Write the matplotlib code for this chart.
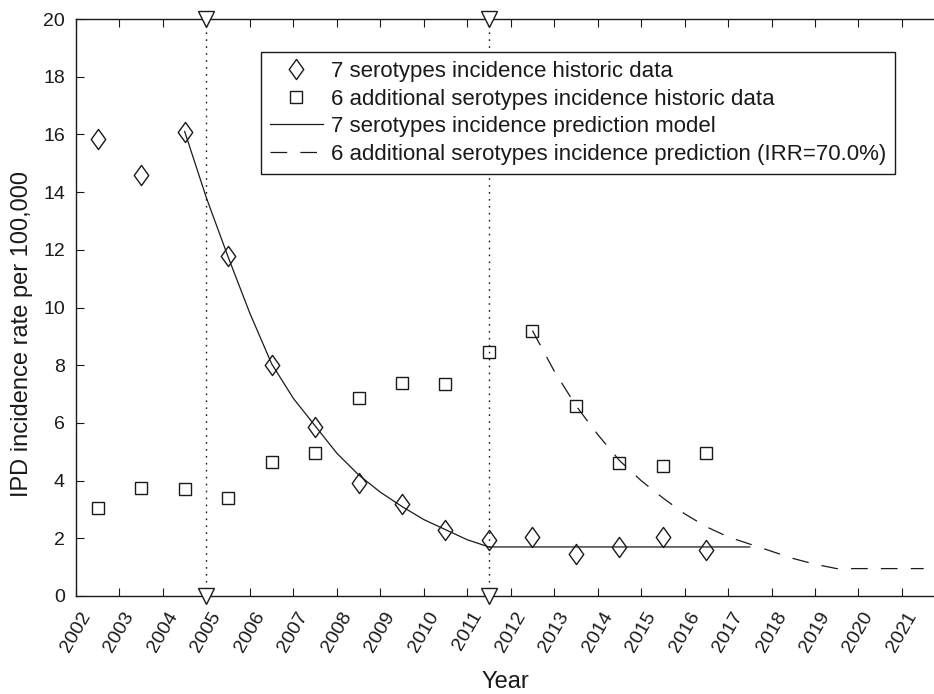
import matplotlib
matplotlib.use("Agg")
import matplotlib.pyplot as plt
from matplotlib.path import Path
import numpy as np

plt.rcParams['font.family'] = ['Liberation Sans', 'DejaVu Sans']
plt.rcParams['lines.scale_dashes'] = False

# ---- data ----
years_hist = [2002.5, 2003.5, 2004.5, 2005.5, 2006.5, 2007.5, 2008.5, 2009.5,
              2010.5, 2011.5, 2012.5, 2013.5, 2014.5, 2015.5, 2016.5]
sero7_hist = [15.85, 14.6, 16.1, 11.8, 8.0, 5.85, 3.9, 3.2,
              2.3, 1.95, 2.05, 1.45, 1.7, 2.05, 1.6]
sero6_hist = [3.05, 3.75, 3.7, 3.4, 4.65, 4.95, 6.85, 7.4,
              7.35, 8.45, 9.2, 6.6, 4.6, 4.5, 4.95]

model7_x = [2004.5, 2005.0, 2005.5, 2006.0, 2006.5, 2007.0, 2007.5, 2008.0,
            2008.5, 2009.0, 2009.5, 2010.0, 2010.5, 2011.0, 2011.5,
            2012.5, 2013.5, 2014.5, 2015.5, 2016.5, 2017.5]
model7_y = [16.1, 13.8, 11.75, 9.8, 8.05, 6.85, 5.9, 4.95,
            4.2, 3.6, 3.1, 2.65, 2.3, 1.95, 1.7,
            1.7, 1.7, 1.7, 1.7, 1.7, 1.7]

pred6_x = [2012.5, 2013.0, 2013.5, 2014.0, 2014.5, 2015.0, 2015.5, 2016.0,
           2016.5, 2017.0, 2017.5, 2018.0, 2018.5, 2019.0, 2019.5,
           2020.0, 2020.5, 2021.0, 2021.5]
pred6_y = [9.2, 7.8, 6.6, 5.6, 4.7, 4.0, 3.4, 2.85,
           2.4, 2.05, 1.8, 1.55, 1.3, 1.1, 0.95,
           0.95, 0.95, 0.95, 0.95]

vacc_years = [2005.0, 2011.5]
year_ticks = list(range(2002, 2022))
y_ticks = list(range(0, 21, 2))

labels = ['7 serotypes incidence historic data',
          '6 additional serotypes incidence historic data',
          '7 serotypes incidence prediction model',
          '6 additional serotypes incidence prediction (IRR=70.0%)']

# ---- figure ----
W, H = 934, 694
fig = plt.figure(figsize=(W / 100, H / 100), dpi=100)
left, right, top, bottom = 76, 934, 19, 596
ax = fig.add_axes([left / W, 1 - bottom / H, (right - left) / W, (bottom - top) / H])

diamond = Path([(0, 1), (0.72, 0), (0, -1), (-0.72, 0), (0, 1)],
               [Path.MOVETO, Path.LINETO, Path.LINETO, Path.LINETO, Path.CLOSEPOLY])

lc = '#1a1a1a'
h1, = ax.plot(years_hist, sero7_hist, linestyle='none', marker=diamond, markersize=14.5,
              markerfacecolor='none', markeredgecolor=lc, markeredgewidth=1.0)
h2, = ax.plot(years_hist, sero6_hist, linestyle='none', marker='s', markersize=8.5,
              markerfacecolor='none', markeredgecolor=lc, markeredgewidth=1.0)
h3, = ax.plot(model7_x, model7_y, color=lc, linewidth=0.9)
h4, = ax.plot(pred6_x, pred6_y, color=lc, linewidth=0.9, linestyle=(0, (12, 9.5)))

for vx in vacc_years:
    ax.plot([vx, vx], [0, 20], color=lc, linewidth=1.0, linestyle=(0, (1.2, 3.8)))
    ax.plot([vx, vx], [0, 20], linestyle='none', marker='v', markersize=12,
            markerfacecolor='white', markeredgecolor=lc, markeredgewidth=1.0,
            clip_on=False, zorder=5)

ax.set_xlim(2002, 2002 + (right - left) / 43.47)
ax.set_ylim(0, 20)
ax.set_xticks(year_ticks)
ax.set_xticklabels([str(y) for y in year_ticks], rotation=60, ha='center', va='top')
ax.set_yticks(y_ticks)

ax.tick_params(axis='x', direction='in', length=6, width=0.8, top=True, bottom=True,
               labelsize=14, pad=9, colors=lc)
ax.tick_params(axis='y', direction='in', length=6, width=0.8, left=True, right=False,
               labelsize=14, pad=8, colors=lc)
for s in ['left', 'top', 'bottom']:
    ax.spines[s].set_linewidth(1.0)
    ax.spines[s].set_color(lc)
ax.spines['right'].set_visible(False)

ax.set_xlabel('Year', fontsize=17, labelpad=11.5, color=lc)
ax.set_ylabel('IPD incidence rate per 100,000', fontsize=17, color=lc)
ax.yaxis.set_label_coords((33 - left) / (right - left), 0.454)

leg = ax.legend([h1, h2, h3, h4], labels, loc='upper right',
                bbox_to_anchor=((895 - left) / (right - left), (bottom - 52) / (bottom - top)),
                fontsize=16, frameon=True, fancybox=False, framealpha=1,
                edgecolor=lc, handlelength=2.4, handletextpad=0.35,
                labelspacing=0.3, borderpad=0.4, borderaxespad=0)
leg.get_frame().set_linewidth(1.0)
for t in leg.get_texts():
    t.set_color(lc)

fig.savefig('out.png', dpi=100)
